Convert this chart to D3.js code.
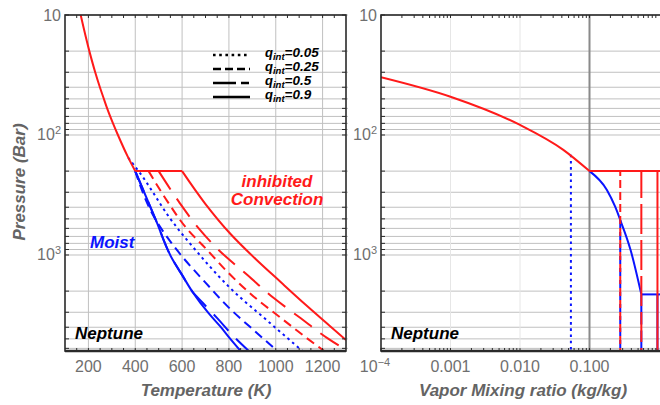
<!DOCTYPE html>
<html><head><meta charset="utf-8">
<script src="https://cdn.jsdelivr.net/npm/d3@7"></script>
<style>body{margin:0;background:#fff}svg{display:block}text{font-family:"Liberation Sans",Arial,sans-serif}</style>
</head><body>
<svg id="c" width="660" height="405"></svg>
<script>
// ---------- data ----------
const pGridMajor = [10, 100, 1000];
const yTickSup = ["", "2", "3"];
const tTicks = [200, 400, 600, 800, 1000, 1200];
const qTicks = [1e-4, 0.001, 0.01, 0.1];
const qTickLabels = ["10", "0.001", "0.010", "0.100"];
const qTickSup = ["\u22124", "", "", ""];

// dry adiabat (shared)
const dryP = [10, 20, 30, 40, 50, 60, 80, 100, 150, 200];
const dryT = [167, 204, 229, 249, 266, 280, 305, 326, 367, 400];
// inhibited jump at 200 bar
const jumpP = 200, jumpT0 = 400, jumpT1 = 600;

// moist (blue) profiles
const m09P = [200, 500, 1070, 1500, 2010, 3070, 3960, 5000, 6310];
const m09T = [400, 486, 557, 603, 643, 714, 764, 806, 850];
const m05P = [200, 500, 1070, 1500, 2010, 2500, 3360, 4780, 6310];
const m05T = [400, 486, 557, 603, 643, 688, 750, 821, 885];
const m025P = [200, 515, 1000, 1700, 2835, 4300, 6310];
const m025T = [400, 489, 595, 700, 807, 910, 1007];
const m005P = [155, 200, 544, 908, 2050, 3500, 6310];
const m005T = [370, 414, 564, 657, 825, 962, 1114];

// inhibited (red) profiles
const i025P = [200, 359, 599, 908, 1468, 2296, 3370, 4950, 6310];
const i025T = [457, 538, 619, 707, 807, 915, 1024, 1134, 1207];
const i05P = [200, 359, 599, 939, 1468, 2296, 3370, 4950, 6190];
const i05T = [500, 586, 671, 764, 879, 993, 1107, 1222, 1300];
const i09P = [200, 376, 668, 1080, 1680, 2610, 3980, 5110];
const i09T = [600, 700, 807, 914, 1021, 1129, 1236, 1300];

// right panel: vapor mixing ratio
const satQ = [1e-4, 0.001, 0.01, 0.042, 0.1];
const satP = [33, 48, 82.5, 133, 200];
const moistQ = [0.1, 0.178, 0.234, 0.277, 0.39, 0.557];
const moistP = [200, 287, 396, 511, 908, 2130];
const qInt = [0.054, 0.277, 0.557, 0.95];
const qBlueStartP = [146, 511, 2130, 2130];
const qRedStartP = [null, 200, 200, 200];
const qMax = 0.95;

const legendLabels = ["0.05", "0.25", "0.5", "0.9"];

// ---------- setup ----------
const svg = d3.select("#c");
const L = {x0: 65, x1: 346}, R = {x0: 381, x1: 659};
const Y0 = 15, Y1 = 351;
const y = d3.scaleLog().domain([10, 6310]).range([Y0, Y1]);
const xT = d3.scaleLinear().domain([100, 1300]).range([L.x0, L.x1]);
const xQ = d3.scaleLog().domain([1e-4, 1]).range([R.x0, R.x1]);

const dashes = {dot: "2.6,3.6", dash: "9,5.5", long: "22,11", solid: null};
const blue = "#0a14ff", red = "#ff1a1a";
const gridC = "#c0c0c0", tickC = "#6f6f6f", frameC = "#2a2a2a";

const minorP = [];
[10, 100, 1000].forEach(d => { for (let k = 1; k <= 9; k++) { const v = d * k; if (v <= 6310) minorP.push(v); } });

const defs = svg.append("defs");
defs.append("clipPath").attr("id", "clipL").append("rect").attr("x", L.x0).attr("y", Y0).attr("width", L.x1 - L.x0).attr("height", Y1 - Y0);
defs.append("clipPath").attr("id", "clipR").append("rect").attr("x", R.x0).attr("y", Y0).attr("width", R.x1 - R.x0 + 2).attr("height", Y1 - Y0);

function panelGrid(P) {
  const g = svg.append("g");
  g.selectAll(null).data(minorP).join("line")
    .attr("x1", P.x0).attr("x2", P.x1 + 2).attr("y1", d => y(d)).attr("y2", d => y(d))
    .attr("stroke", gridC).attr("stroke-width", 1);
  return g;
}

// LEFT panel grid
const gL = panelGrid(L);
gL.selectAll(null).data(tTicks).join("line")
  .attr("x1", d => xT(d)).attr("x2", d => xT(d)).attr("y1", Y0).attr("y2", Y1)
  .attr("stroke", gridC).attr("stroke-width", 1);
// RIGHT panel grid
const gR = panelGrid(R);
gR.selectAll(null).data([0.001, 0.01]).join("line")
  .attr("x1", d => xQ(d)).attr("x2", d => xQ(d)).attr("y1", Y0).attr("y2", Y1)
  .attr("stroke", "#e6e6e6").attr("stroke-width", 1);
gR.append("line").attr("x1", xQ(0.1)).attr("x2", xQ(0.1)).attr("y1", Y0).attr("y2", Y1)
  .attr("stroke", "#8a8a8a").attr("stroke-width", 2);

// ---------- left panel lines ----------
const zip = (Ts, Ps) => Ts.map((t, i) => [t, Ps[i]]);
const lineTP = d3.line().x(d => xT(d[0])).y(d => y(d[1])).curve(d3.curveMonotoneY);
const cL = svg.append("g").attr("clip-path", "url(#clipL)").attr("fill", "none").attr("stroke-width", 2);

function drawTP(Ts, Ps, color, dash) {
  const p = cL.append("path").attr("d", lineTP(zip(Ts, Ps))).attr("stroke", color);
  if (dash) p.attr("stroke-dasharray", dash);
}
// blue moist
drawTP(m005T, m005P, blue, dashes.dot);
drawTP(m025T, m025P, blue, dashes.dash);
drawTP(m05T, m05P, blue, dashes.long);
drawTP(m09T, m09P, blue, null);
// red inhibited
drawTP(i025T, i025P, red, dashes.dash);
drawTP(i05T, i05P, red, dashes.long);
drawTP(dryT, dryP, red, null);
cL.append("line").attr("x1", xT(jumpT0)).attr("x2", xT(jumpT1)).attr("y1", y(jumpP)).attr("y2", y(jumpP)).attr("stroke", red);
drawTP(i09T, i09P, red, null);

// ---------- right panel lines ----------
const lineQP = d3.line().x(d => xQ(d[0])).y(d => y(d[1])).curve(d3.curveMonotoneX);
const cR = svg.append("g").attr("clip-path", "url(#clipR)").attr("fill", "none").attr("stroke-width", 2);
const qDash = [dashes.dot, "8,4", "30,6", null];
qInt.forEach((q, i) => {
  const l = cR.append("line").attr("x1", xQ(q)).attr("x2", xQ(q)).attr("y1", y(qBlueStartP[i])).attr("y2", Y1).attr("stroke", blue);
  if (qDash[i]) l.attr("stroke-dasharray", qDash[i]);
});
cR.append("path").attr("d", lineQP(zip(moistQ, moistP))).attr("stroke", blue);
cR.append("line").attr("x1", xQ(moistQ[moistQ.length - 1])).attr("x2", xQ(qMax) + 3).attr("y1", y(2130)).attr("y2", y(2130)).attr("stroke", blue);
cR.append("path").attr("d", lineQP(zip(satQ, satP))).attr("stroke", red);
cR.append("line").attr("x1", xQ(0.1)).attr("x2", xQ(qMax) + 3).attr("y1", y(200)).attr("y2", y(200)).attr("stroke", red);
qInt.forEach((q, i) => {
  if (qRedStartP[i] == null) return;
  const l = cR.append("line").attr("x1", xQ(q)).attr("x2", xQ(q)).attr("y1", y(qRedStartP[i])).attr("y2", Y1).attr("stroke", red);
  if (qDash[i]) l.attr("stroke-dasharray", qDash[i]).attr("stroke-dashoffset", 3);
});

// ---------- frames & ticks ----------
function frame(P, xMinor, xs, showRight) {
  const g = svg.append("g");
  g.selectAll(null).data(minorP).join("line")
    .attr("x1", P.x0).attr("x2", P.x0 + 4).attr("y1", d => y(d)).attr("y2", d => y(d)).attr("stroke", frameC);
  if (showRight) g.selectAll(null).data(minorP).join("line")
    .attr("x1", P.x1).attr("x2", P.x1 - 4).attr("y1", d => y(d)).attr("y2", d => y(d)).attr("stroke", frameC);
  g.selectAll(null).data(xMinor).join("line")
    .attr("x1", d => xs(d)).attr("x2", d => xs(d)).attr("y1", Y0).attr("y2", Y0 + 3).attr("stroke", frameC);
  g.selectAll(null).data(xMinor).join("line")
    .attr("x1", d => xs(d)).attr("x2", d => xs(d)).attr("y1", Y1).attr("y2", Y1 - 3).attr("stroke", frameC);
  const xr = showRight ? P.x1 : 662;
  g.append("rect").attr("x", P.x0).attr("y", Y0).attr("width", xr - P.x0).attr("height", Y1 - Y0)
    .attr("fill", "none").attr("stroke", frameC).attr("stroke-width", 1.6);
  g.append("line").attr("x1", P.x0).attr("x2", xr).attr("y1", Y1).attr("y2", Y1).attr("stroke", frameC).attr("stroke-width", 2.4);
  pGridMajor.forEach((v, i) => {
    const t = g.append("text").attr("x", P.x0 - 4).attr("y", y(v) + 5.5).attr("text-anchor", "end")
      .attr("font-size", 16).attr("fill", tickC).text("10");
    if (yTickSup[i]) t.append("tspan").attr("font-size", 11).attr("dy", -6).text(yTickSup[i]);
  });
}
const tMinor = d3.range(150, 1300, 50);
const qMinor = [];
[1e-4, 1e-3, 1e-2, 1e-1].forEach(d => { for (let k = 1; k <= 9; k++) qMinor.push(d * k); });
frame(L, tMinor, xT, true);
frame(R, qMinor, xQ, false);

// x tick labels
svg.append("g").selectAll(null).data(tTicks).join("text")
  .attr("x", d => xT(d)).attr("y", 372).attr("text-anchor", "middle").attr("font-size", 16).attr("fill", tickC).text(d => d);
qTicks.forEach((q, i) => {
  const t = svg.append("text").attr("x", xQ(q) + (qTickSup[i] ? -6 : 0)).attr("y", 372).attr("text-anchor", "middle")
    .attr("font-size", 16).attr("fill", tickC).text(qTickLabels[i]);
  if (qTickSup[i]) t.append("tspan").attr("font-size", 11).attr("dy", -6).text(qTickSup[i]);
});

// axis titles
const titleStyle = s => s.attr("font-size", 17).attr("font-weight", "bold").attr("font-style", "italic").attr("fill", "#646464");
titleStyle(svg.append("text").attr("x", 206).attr("y", 396).attr("text-anchor", "middle").text("Temperature (K)"));
titleStyle(svg.append("text").attr("x", 523).attr("y", 396).attr("text-anchor", "middle").text("Vapor Mixing ratio (kg/kg)"));
titleStyle(svg.append("text").attr("transform", "translate(25,182) rotate(-90)").attr("text-anchor", "middle").text("Pressure (Bar)"));

// annotations
const ann = (x, yy, txt, col, anchor) => svg.append("text").attr("x", x).attr("y", yy).attr("text-anchor", anchor || "start")
  .attr("font-size", 17).attr("font-weight", "bold").attr("font-style", "italic").attr("fill", col).text(txt);
ann(75, 339, "Neptune", "#000");
ann(391, 339, "Neptune", "#000");
ann(90, 248, "Moist", blue);
ann(277, 187, "inhibited", red, "middle");
ann(277, 205, "Convection", red, "middle");

// legend
const legDash = [dashes.dot, "8,4", "23,5,8,100", null];
const lg = svg.append("g");
legendLabels.forEach((lab, i) => {
  const yy = 55 + i * 14;
  const l = lg.append("line").attr("x1", 213).attr("x2", 250).attr("y1", yy).attr("y2", yy).attr("stroke", "#000").attr("stroke-width", 2.4);
  if (legDash[i]) l.attr("stroke-dasharray", legDash[i]);
  const t = lg.append("text").attr("x", 265).attr("y", yy + 2).attr("font-size", 13).attr("font-weight", "bold").attr("font-style", "italic").attr("fill", "#000").text("q");
  t.append("tspan").attr("font-size", 9.5).attr("dy", 2.5).text("int");
  t.append("tspan").attr("dy", -2.5).attr("font-size", 13.5).text("=" + lab);
});
</script>
</body></html>
